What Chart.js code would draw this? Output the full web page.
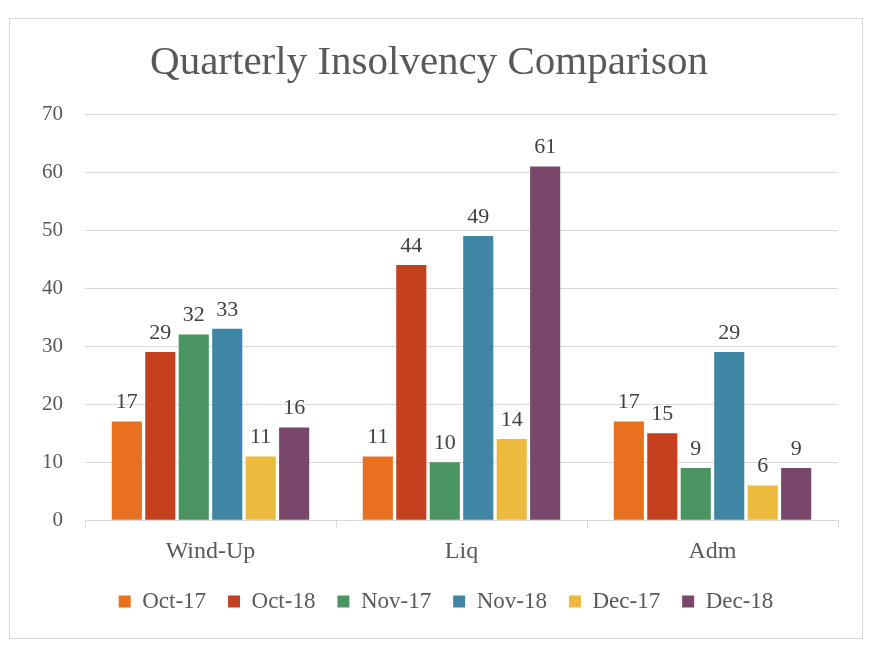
<!DOCTYPE html>
<html lang="en">
<head>
    <meta charset="UTF-8">
    <title>Quarterly Insolvency Comparison</title>
    <script src="https://cdn.jsdelivr.net/npm/chart.js"></script>
    <style>
        body { margin: 0; background: #fff; }
        .chart-box { position: absolute; left: 9px; top: 18px; width: 852px; height: 619px; border: 1px solid #d9d9d9; }
    </style>
</head>
<body>
    <div class="chart-box">
        <canvas id="insolvencyChart"></canvas>
    </div>

    <script>
        const categories = ["Wind-Up", "Liq", "Adm"];
        const periods = ["Oct-17", "Oct-18", "Nov-17", "Nov-18", "Dec-17", "Dec-18"];
        const oct17 = [17, 11, 17];
        const oct18 = [29, 44, 15];
        const nov17 = [32, 10, 9];
        const nov18 = [33, 49, 29];
        const dec17 = [11, 14, 6];
        const dec18 = [16, 61, 9];
        const colors = ["#e8701f", "#c4401f", "#4a9462", "#3f86a5", "#ecba3d", "#78476a"];
        const yTicks = [0, 10, 20, 30, 40, 50, 60, 70];

        const FONT = "'Liberation Serif', Georgia, serif";

        // draw the value over each bar
        const valueLabels = {
            id: "valueLabels",
            afterDatasetsDraw(chart) {
                const ctx = chart.ctx;
                ctx.save();
                ctx.font = "22px " + FONT;
                ctx.fillStyle = "#404040";
                ctx.textAlign = "center";
                ctx.textBaseline = "bottom";
                chart.data.datasets.forEach((ds, i) => {
                    chart.getDatasetMeta(i).data.forEach((bar, j) => {
                        ctx.fillText(ds.data[j], bar.x, bar.y - 8);
                    });
                });
                ctx.restore();
            }
        };

        // legend sits a little right of centre and a bit higher in the original
        const legendNudge = {
            id: "legendNudge",
            afterLayout(chart) {
                const lg = chart.legend;
                if (lg) {
                    lg.left += 17;
                    lg.right += 17;
                    lg.top -= 7;
                    lg.bottom -= 7;
                }
            }
        };

        const seriesData = [oct17, oct18, nov17, nov18, dec17, dec18];

        new Chart(document.getElementById("insolvencyChart"), {
            type: "bar",
            data: {
                labels: categories,
                datasets: periods.map((p, i) => ({
                    label: p,
                    data: seriesData[i],
                    backgroundColor: colors[i]
                }))
            },
            options: {
                responsive: true,
                maintainAspectRatio: false,
                animation: false,
                layout: { padding: { left: 10, right: 24, top: 10, bottom: 8 } },
                plugins: {
                    title: {
                        display: true,
                        text: "Quarterly Insolvency Comparison",
                        color: "#595959",
                        font: { family: FONT, size: 41, weight: "normal" },
                        padding: { top: 10, bottom: 26 }
                    },
                    legend: {
                        position: "bottom",
                        labels: {
                            color: "#595959",
                            font: { family: FONT, size: 23 },
                            boxWidth: 12,
                            boxHeight: 12,
                            padding: 22
                        }
                    },
                    tooltip: { enabled: false }
                },
                scales: {
                    x: {
                        grid: { drawOnChartArea: false, offset: true, color: "#d9d9d9", tickLength: 8 },
                        border: { color: "#d9d9d9" },
                        ticks: { color: "#595959", font: { family: FONT, size: 24 }, padding: 9 }
                    },
                    y: {
                        min: 0,
                        max: 70,
                        afterBuildTicks: axis => { axis.ticks = yTicks.map(v => ({ value: v })); },
                        grid: { color: "#d9d9d9", drawTicks: false },
                        border: { display: false },
                        ticks: { color: "#595959", font: { family: FONT, size: 21 }, padding: 22 }
                    }
                }
            },
            plugins: [valueLabels, legendNudge]
        });
    </script>
</body>
</html>
